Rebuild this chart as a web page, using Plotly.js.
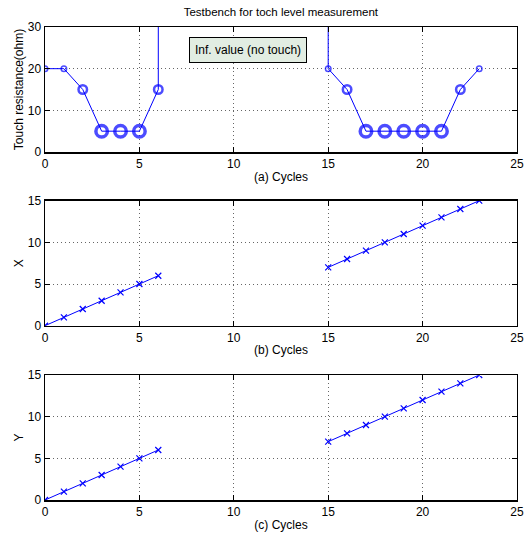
<!DOCTYPE html>
<html><head><meta charset="utf-8">
<script src="https://cdn.plot.ly/plotly-3.0.1.min.js"></script>
<style>html,body{margin:0;padding:0;background:#fff}</style>
</head><body><div id="chart" style="width:527px;height:533px"></div>
<script>
// Data
var cycles = [0,1,2,3,4,5,6,7,8,9,10,11,12,13,14,15,16,17,18,19,20,21,22,23];
var INF = 1e5; // "Inf. value (no touch)"
var resistance = [20,20,15,5,5,5,15,INF,INF,INF,INF,INF,INF,INF,INF,20,15,5,5,5,5,5,15,20];
var xPos = [0,1,2,3,4,5,6,null,null,null,null,null,null,null,null,7,8,9,10,11,12,13,14,15];
var yPos = [0,1,2,3,4,5,6,null,null,null,null,null,null,null,null,7,8,9,10,11,12,13,14,15];
var xTicks = [0,5,10,15,20,25];

var blue = '#0000ff';
function msize(v){ return v>=INF ? 0 : (v>=20 ? 5.5 : (v>=15 ? 8.5 : 11.5)); }
function mline(v){ return v>=INF ? 0 : (v>=20 ? 1.5 : (v>=15 ? 2.5 : 3.5)); }

var traces = [
  {x: cycles, y: resistance, xaxis:'x', yaxis:'y', mode:'lines+markers', type:'scatter',
   line:{color:blue, width:1},
   marker:{symbol:'circle-open', color:blue, size:resistance.map(msize),
           line:{color:blue, width:resistance.map(mline)}}},
  {x: cycles, y: xPos, xaxis:'x2', yaxis:'y2', mode:'lines+markers', type:'scatter',
   line:{color:blue, width:1}, connectgaps:false,
   marker:{symbol:'x-thin-open', color:blue, size:6, line:{color:blue, width:1.2}}},
  {x: cycles, y: yPos, xaxis:'x3', yaxis:'y3', mode:'lines+markers', type:'scatter',
   line:{color:blue, width:1}, connectgaps:false,
   marker:{symbol:'x-thin-open', color:blue, size:6, line:{color:blue, width:1.2}}}
];

var font = {family:'Liberation Sans, Arial, sans-serif', size:12, color:'#000'};
function xax(label, anchor){
  return {domain:[0.0854,0.981], range:[0,25], tickvals:xTicks, anchor:anchor,
    ticks:'inside', ticklen:5, tickcolor:'#000', showline:true, linecolor:'#000', linewidth:1.5,
    mirror:'ticks', showgrid:true, gridcolor:'#666', griddash:'1px,3px', gridwidth:1, zeroline:false,
    tickfont:font, title:{text:label, font:font, standoff:2}};
}
function yax(label, dom, rng, dt, anchor){
  return {domain:dom, range:rng, dtick:dt, anchor:anchor,
    ticks:'inside', ticklen:5, tickcolor:'#000', showline:true, linecolor:'#000', linewidth:1.5,
    mirror:'ticks', showgrid:true, gridcolor:'#666', griddash:'1px,3px', gridwidth:1, zeroline:false,
    tickfont:font, title:{text:label, font:font, standoff:1}};
}

var layout = {
  width:527, height:533, margin:{l:0,r:0,t:0,b:0}, showlegend:false,
  paper_bgcolor:'#fff', plot_bgcolor:'#fff', font:font,
  title:{text:'Testbench for toch level measurement', font:{family:font.family,size:11.5,color:'#000'},
         x:0.533, xanchor:'center', y:0.977, yanchor:'middle'},
  xaxis: xax('(a) Cycles','y'),
  yaxis: yax('Touch resistance(ohm)',[0.7148,0.9493],[0,30],10,'x'),
  xaxis2: xax('(b) Cycles','y2'),
  yaxis2: yax('X',[0.3889,0.6235],[0,15],5,'x2'),
  xaxis3: xax('(c) Cycles','y3'),
  yaxis3: yax('Y',[0.0619,0.2964],[0,15],5,'x3'),
  annotations:[{xref:'x', yref:'y', x:10.75, y:24.6, text:'Inf. value (no touch)', showarrow:false,
    font:font, bgcolor:'#e2ede2', bordercolor:'#000', borderwidth:1, borderpad:5}]
};

Plotly.newPlot('chart', traces, layout, {displayModeBar:false, staticPlot:true});
</script></body></html>
